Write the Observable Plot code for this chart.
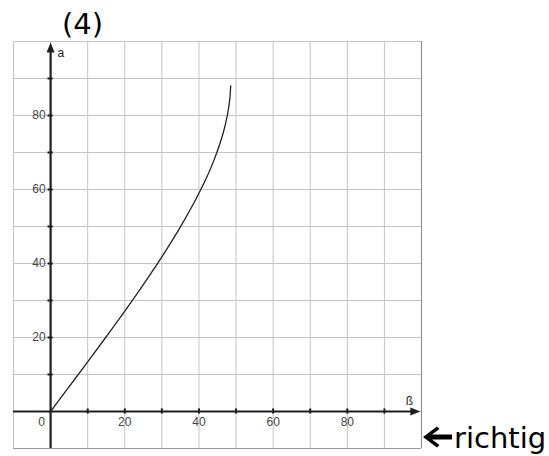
<!DOCTYPE html>
<html>
<head>
<meta charset="utf-8">
<script src="https://cdn.jsdelivr.net/npm/d3@7"></script>
<script src="https://cdn.jsdelivr.net/npm/@observablehq/plot@0.6"></script>
<style>
  html, body { margin: 0; padding: 0; background: #fff; }
  #wrap { position: relative; width: 549px; height: 456px; }
  #wrap > svg { position: absolute; left: 0; top: 0; }
</style>
</head>
<body>
<div id="wrap"></div>
<script>
// Curve: beta (x) vs alpha (y)
const betaVals  = [0, 5, 10, 15, 20, 25, 30, 35, 40, 42, 44, 46, 47, 48, 48.4, 48.56];
const alphaVals = [0, 6.7, 13.4, 20.2, 27.1, 34.3, 41.8, 49.9, 59.0, 63.1, 67.8, 73.5, 77.1, 82.1, 85.4, 88];
const gridVals  = [-10, 0, 10, 20, 30, 40, 50, 60, 70, 80, 90, 100];
const axisTicks = [10, 20, 30, 40, 50, 60, 70, 80, 90];
const xTickLabels = [20, 40, 60, 80];
const yTickLabels = [20, 40, 60, 80];
const xAxisLabel = "ß";
const yAxisLabel = "a";
const titleText = "(4)";
const noteText = "richtig";

const curve = betaVals.map((b, i) => ({beta: b, alpha: alphaVals[i]}));
const axisColor = "#1e1e1e";
const labelFont = "Liberation Sans, Arial, sans-serif";

const chart = Plot.plot({
  width: 549,
  height: 456,
  marginLeft: 13,
  marginTop: 41,
  marginRight: 128,
  marginBottom: 8,
  x: {domain: [-10, 100], axis: null},
  y: {domain: [-10, 100], axis: null},
  style: {background: "transparent", fontFamily: labelFont},
  marks: [
    Plot.gridX(gridVals, {stroke: "#c4c4c4", strokeOpacity: 1, strokeWidth: 1}),
    Plot.gridY(gridVals, {stroke: "#c4c4c4", strokeOpacity: 1, strokeWidth: 1}),
    Plot.ruleX([100], {stroke: "#8a8a8a"}),
    Plot.ruleY([-10], {stroke: "#9a9a9a"}),
    // axes
    Plot.ruleY([0], {x1: -10, x2: 98, stroke: axisColor, strokeWidth: 2}),
    Plot.ruleX([0], {y1: -10, y2: 98, stroke: axisColor, strokeWidth: 2.2}),
    Plot.vector([0], {x: () => 99.7, y: () => 0, rotate: 90, length: 10, r: 4, shape: "spike", anchor: "end", fill: axisColor, stroke: "none"}),
    Plot.vector([0], {x: () => 0, y: () => 99.7, rotate: 0, length: 10, r: 4, shape: "spike", anchor: "end", fill: axisColor, stroke: "none"}),
    // tick marks
    Plot.ruleX(axisTicks, {x: d => d, y1: -0.7, y2: 0.7, stroke: axisColor, strokeWidth: 2}),
    Plot.ruleY(axisTicks, {y: d => d, x1: -0.7, x2: 0.7, stroke: axisColor, strokeWidth: 2}),
    // tick labels
    Plot.text(xTickLabels, {x: d => d, y: () => 0, text: d => String(d), dy: 11, fill: "#444", fontSize: 12}),
    Plot.text(yTickLabels, {x: () => 0, y: d => d, text: d => String(d), dx: -5, textAnchor: "end", fill: "#444", fontSize: 12}),
    Plot.text([0], {x: () => 0, y: () => 0, text: d => String(d), dx: -9, dy: 11, fill: "#444", fontSize: 12}),
    // axis labels
    Plot.text([yAxisLabel], {x: () => 0, y: () => 100, text: d => d, dx: 7, dy: 15, textAnchor: "start", lineAnchor: "bottom", fill: "#222", fontSize: 12}),
    Plot.text([xAxisLabel], {x: () => 100, y: () => 0, text: d => d, dx: -12, dy: -7, lineAnchor: "bottom", fill: "#222", fontSize: 12}),
    // curve
    Plot.line(curve, {x: "beta", y: "alpha", curve: "monotone-x", stroke: "#222", strokeWidth: 1.3})
  ]
});

const wrap = document.getElementById("wrap");
wrap.appendChild(chart);

// Overlay title & note as real text
const ns = "http://www.w3.org/2000/svg";
const ov = document.createElementNS(ns, "svg");
ov.setAttribute("width", 549);
ov.setAttribute("height", 456);
ov.style.pointerEvents = "none";
const t1 = document.createElementNS(ns, "text");
t1.setAttribute("x", 62); t1.setAttribute("y", 33.5);
t1.setAttribute("font-family", "DejaVu Sans, Verdana, sans-serif");
t1.setAttribute("font-size", 29);
t1.textContent = titleText;
ov.appendChild(t1);
const arr = document.createElementNS(ns, "path");
arr.setAttribute("d", "M423,437 L437,426.5 L439.5,429 L432,434.5 L452,434.5 L452,439.5 L432,439.5 L439.5,445 L437,447.5 Z");
arr.setAttribute("fill", "#000");
ov.appendChild(arr);
const t2 = document.createElementNS(ns, "text");
t2.setAttribute("x", 454); t2.setAttribute("y", 448);
t2.setAttribute("font-family", "DejaVu Sans, Verdana, sans-serif");
t2.setAttribute("font-size", 29);
t2.textContent = noteText;
ov.appendChild(t2);
wrap.appendChild(ov);
</script>
</body>
</html>
